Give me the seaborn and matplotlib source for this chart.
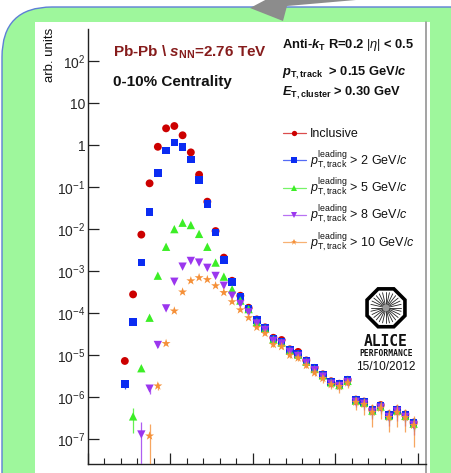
import numpy as np
import pandas as pd
import matplotlib
matplotlib.use("Agg")
import matplotlib.pyplot as plt
import seaborn as sns
from matplotlib.patches import FancyBboxPatch, Rectangle, Polygon, RegularPolygon, Circle
from matplotlib.lines import Line2D
from matplotlib.ticker import FixedLocator, FixedFormatter, LogLocator, NullFormatter, MultipleLocator

nan = np.nan

# jet pT bin centres (GeV/c)
pt_bins = [-11, -9, -7, -5, -3, -1, 1, 3, 5, 7, 9, 11, 13, 15, 17, 19, 21, 23,
           25, 27, 29, 31, 33, 35, 37, 39, 41, 43, 45, 47, 49, 51, 53, 55, 57, 59]

inclusive = [7.3e-6, 2.8e-4, 7.4e-3, 0.123, 0.91, 2.5, 2.84, 1.71, 0.67, 0.197, 0.045, 9.0e-3,
             2.1e-3, 5.9e-4, 2.6e-4, 1.35e-4, 7.1e-5, 4.6e-5, 2.6e-5, 2.3e-5, 1.38e-5, 1.2e-5,
             7.5e-6, 5.0e-6, 3.5e-6, 2.4e-6, 2.1e-6, 2.6e-6, 8.8e-7, 7.9e-7, 5.1e-7, 6.5e-7,
             3.9e-7, 5.1e-7, 3.9e-7, 2.5e-7]
lead2 = [2.1e-6, 6.2e-5, 1.6e-3, 0.0255, 0.216, 0.75, 1.16, 0.91, 0.45, 0.15, 0.039, 8.4e-3,
         1.84e-3, 5.6e-4, 2.47e-4, 1.3e-4, 6.9e-5, 4.5e-5, 2.5e-5, 2.1e-5, 1.33e-5, 1.07e-5,
         7.3e-6, 4.9e-6, 3.4e-6, 2.34e-6, 2.04e-6, 2.57e-6, 8.6e-7, 7.8e-7, 5.0e-7, 6.3e-7,
         3.8e-7, 5.0e-7, 3.8e-7, 2.45e-7]
lead5 = [nan, 3.5e-7, 4.9e-6, 7.8e-5, 7.8e-4, 3.8e-3, 0.010, 0.0142, 0.0125, 7.7e-3, 3.8e-3, 1.6e-3,
         7.4e-4, 3.7e-4, 2.0e-4, 1.25e-4, 6.2e-5, 4.3e-5, 2.4e-5, 2.0e-5, 1.28e-5, 1.03e-5,
         7.0e-6, 4.7e-6, 3.3e-6, 2.25e-6, 1.95e-6, 2.45e-6, 8.3e-7, 7.4e-7, 4.8e-7, 6.0e-7,
         3.6e-7, 4.8e-7, 3.6e-7, 2.35e-7]
lead8 = [nan, nan, 1.3e-7, 1.6e-6, 1.75e-5, 1.3e-4, 5.6e-4, 1.28e-3, 1.75e-3, 1.6e-3, 1.2e-3, 7.7e-4,
         4.5e-4, 2.6e-4, 1.66e-4, 1.05e-4, 5.7e-5, 4.0e-5, 2.2e-5, 1.9e-5, 1.2e-5, 9.6e-6,
         6.6e-6, 4.4e-6, 3.1e-6, 2.1e-6, 1.85e-6, 2.3e-6, 7.8e-7, 7.0e-7, 4.5e-7, 5.7e-7,
         3.4e-7, 4.6e-7, 3.4e-7, 2.2e-7]
lead10 = [nan, nan, nan, 1.2e-7, 1.86e-6, 1.9e-5, 1.13e-4, 3.2e-4, 5.9e-4, 7.0e-4, 6.3e-4, 4.5e-4,
          3.1e-4, 1.87e-4, 1.2e-4, 7.8e-5, 4.6e-5, 3.3e-5, 1.8e-5, 1.6e-5, 1.0e-5, 8.6e-6,
          5.7e-6, 3.8e-6, 2.8e-6, 2.0e-6, 1.8e-6, 2.2e-6, 7.6e-7, 6.8e-7, 4.4e-7, 5.5e-7,
          3.3e-7, 4.4e-7, 3.3e-7, 2.15e-7]

# relative statistical uncertainties per bin
inclusive_rel = [0.12, 0.05, 0.02, 0.01, 0.01, 0.01, 0.01, 0.01, 0.01, 0.01, 0.01, 0.02,
                 0.03, 0.04, 0.05, 0.05, 0.06, 0.07, 0.08, 0.08, 0.09, 0.10, 0.10, 0.11,
                 0.12, 0.14, 0.15, 0.14, 0.2, 0.22, 0.25, 0.22, 0.28, 0.25, 0.28, 0.3]
lead2_rel = [0.25, 0.1, 0.03, 0.01, 0.01, 0.01, 0.01, 0.01, 0.01, 0.01, 0.01, 0.02,
             0.03, 0.04, 0.05, 0.05, 0.06, 0.07, 0.08, 0.08, 0.09, 0.10, 0.10, 0.11,
             0.12, 0.14, 0.15, 0.14, 0.2, 0.22, 0.25, 0.22, 0.28, 0.25, 0.28, 0.3]
lead5_rel = [nan, 0.6, 0.15, 0.05, 0.02, 0.02, 0.02, 0.02, 0.02, 0.02, 0.02, 0.03,
             0.04, 0.05, 0.06, 0.06, 0.07, 0.08, 0.09, 0.09, 0.10, 0.11, 0.11, 0.12,
             0.13, 0.15, 0.17, 0.16, 0.22, 0.25, 0.28, 0.25, 0.3, 0.28, 0.3, 0.33]
lead8_rel = [nan, nan, 0.95, 0.25, 0.08, 0.04, 0.03, 0.03, 0.03, 0.03, 0.03, 0.04,
             0.05, 0.06, 0.07, 0.07, 0.08, 0.09, 0.1, 0.1, 0.11, 0.12, 0.12, 0.13,
             0.14, 0.16, 0.2, 0.18, 0.25, 0.3, 0.32, 0.3, 0.38, 0.4, 0.38, 0.42]
lead10_rel = [nan, nan, nan, 0.95, 0.2, 0.08, 0.04, 0.04, 0.04, 0.04, 0.04, 0.05,
              0.06, 0.07, 0.08, 0.08, 0.09, 0.1, 0.11, 0.12, 0.13, 0.14, 0.15, 0.17,
              0.2, 0.22, 0.3, 0.25, 0.35, 0.45, 0.55, 0.45, 0.55, 0.55, 0.55, 0.7]

series_keys = ["incl", "lead2", "lead5", "lead8", "lead10"]
series_values = [inclusive, lead2, lead5, lead8, lead10]
series_rel = [inclusive_rel, lead2_rel, lead5_rel, lead8_rel, lead10_rel]
series_labels = [
    "Inclusive",
    r"$p_{\mathrm{T,track}}^{\mathrm{leading}}$ > 2 GeV/$c$",
    r"$p_{\mathrm{T,track}}^{\mathrm{leading}}$ > 5 GeV/$c$",
    r"$p_{\mathrm{T,track}}^{\mathrm{leading}}$ > 8 GeV/$c$",
    r"$p_{\mathrm{T,track}}^{\mathrm{leading}}$ > 10 GeV/$c$",
]
series_colors = ["#cc0000", "#0b2cf2", "#3cee26", "#9b36ee", "#f59038"]
series_markers = ["o", "s", "^", "v", "*"]
series_sizes = [32, 30, 36, 36, 46]

ytick_vals = [1e2, 1e1, 1e0, 1e-1, 1e-2, 1e-3, 1e-4, 1e-5, 1e-6, 1e-7]
ytick_text = [r"$10^{2}$", "10", "1", r"$10^{-1}$", r"$10^{-2}$", r"$10^{-3}$",
              r"$10^{-4}$", r"$10^{-5}$", r"$10^{-6}$", r"$10^{-7}$"]

# long-form table for seaborn
frames = []
for key, vals, rel in zip(series_keys, series_values, series_rel):
    v = np.asarray(vals, dtype=float)
    frames.append(pd.DataFrame({"pt": pt_bins, "value": v, "err": v * np.asarray(rel, dtype=float),
                                "series": key}))
df = pd.concat(frames, ignore_index=True).dropna()

sns.set_theme(style="white")
plt.rcParams.update({
    "font.family": ["Liberation Sans", "DejaVu Sans"],
    "mathtext.fontset": "custom",
    "mathtext.rm": "Liberation Sans",
    "mathtext.it": "Liberation Sans:italic",
    "mathtext.bf": "Liberation Sans:bold",
    "mathtext.bfit": "Liberation Sans:italic:bold",
    "mathtext.sf": "Liberation Sans",
})

W, H = 452, 473
fig = plt.figure(figsize=(W / 100, H / 100), dpi=100)
fig.patch.set_facecolor("white")
PX = fig.dpi_scale_trans


def px(x, y):
    return (x / 100.0, (H - y) / 100.0)


# slide background: green rounded panel, white plot canvas
fig.add_artist(FancyBboxPatch(px(2, 560), 5.2, 5.53, boxstyle="round,pad=0,rounding_size=0.5",
                              transform=PX, facecolor="#9ef79c", edgecolor="#5d7fd6",
                              linewidth=1.0, zorder=-10))
fig.add_artist(Rectangle(px(35, 480), 3.95, 4.58, transform=PX, facecolor="white",
                         edgecolor="none", zorder=-9))
fig.add_artist(Line2D([4.26, 4.26], [0, (H - 22) / 100], transform=PX, color="#8a8a8a",
                      linewidth=1.1, zorder=-8))
# grey pointer arrow at the top edge
fig.add_artist(Polygon([px(250, 8), px(288, -12), px(285, -2), px(400, -14), px(402, -4),
                        px(287, 6), px(283, 21)], closed=True, transform=PX,
                       facecolor="#8c8c8c", edgecolor="none", zorder=-7))

ax = fig.add_axes([87.7 / W, (H - 464.3) / H, (426 - 87.7) / W, (464.3 - 29.3) / H])
ax.set_facecolor("none")

for i, (key, col, mk, sz) in enumerate(zip(series_keys, series_colors, series_markers, series_sizes)):
    sub = df[df["series"] == key]
    ax.errorbar(sub["pt"], sub["value"], yerr=sub["err"], fmt="none", ecolor=col,
                elinewidth=0.9, alpha=0.8, capsize=0, zorder=2 + 2 * i)
    sns.scatterplot(data=sub, x="pt", y="value", marker=mk, color=col, s=sz,
                    edgecolor="none", linewidth=0, legend=False, ax=ax, zorder=3 + 2 * i)

ax.set_yscale("log")
ax.set_xlim(-20, 62)
ax.set_ylim(2.54e-8, 568)
ax.yaxis.set_major_locator(FixedLocator(ytick_vals))
ax.yaxis.set_major_formatter(FixedFormatter(ytick_text))
ax.yaxis.set_minor_locator(LogLocator(base=10, subs=np.arange(2, 10)))
ax.yaxis.set_minor_formatter(NullFormatter())
ax.xaxis.set_major_locator(MultipleLocator(20))
ax.xaxis.set_minor_locator(MultipleLocator(4))
ax.set_xlabel("")
ax.set_ylabel("")
ax.tick_params(axis="both", which="major", direction="in", length=8, width=0.9, color="#222222",
               labelsize=10, pad=1.5, left=True, bottom=True, top=False, right=False,
               labelbottom=False)
ax.tick_params(axis="both", which="minor", direction="in", length=4.3, width=0.8, color="#222222",
               left=True, bottom=True, top=False, right=False)
for side in ("top", "right"):
    ax.spines[side].set_visible(False)
for side in ("left", "bottom"):
    ax.spines[side].set_color("#222222")
    ax.spines[side].set_linewidth(1.0)

# axis title
fig.text(*px(50, 28), "arb. units", transform=PX, rotation=90, ha="center", va="top",
         fontsize=9.5, color="#111111")

# header texts
fig.text(*px(113, 56.7), r"Pb-Pb \ $\mathbfit{s}_{\mathbf{NN}}$=2.76 TeV", transform=PX,
         fontsize=11, fontweight="bold", color="#861c1c", va="baseline")
fig.text(*px(113, 85.7), "0-10% Centrality", transform=PX, fontsize=11, fontweight="bold",
         color="#111111", va="baseline")
fig.text(*px(282, 48.3), r"Anti-$\mathbfit{k}_{\mathbf{T}}$ R=0.2 $|\eta|$ < 0.5", transform=PX,
         fontsize=9.3, fontweight="bold", color="#111111", va="baseline")
fig.text(*px(282, 75), r"$\mathbfit{p}_{\mathbf{T,track}}$  > 0.15 GeV/$\mathbfit{c}$", transform=PX,
         fontsize=9.3, fontweight="bold", color="#111111", va="baseline")
fig.text(*px(282, 95), r"$\mathbfit{E}_{\mathbf{T,cluster}}$ > 0.30 GeV", transform=PX,
         fontsize=9.3, fontweight="bold", color="#111111", va="baseline")

# legend drawn as line+marker samples
row_y = [133.3, 160.3, 187.6, 214.9, 242.2]
for lab, col, mk, yy in zip(series_labels, series_colors, series_markers, row_y):
    fig.add_artist(Line2D([2.827, 3.06], [(H - yy) / 100] * 2, transform=PX, color=col,
                          linewidth=0.9, alpha=0.7, zorder=5))
    fig.add_artist(Line2D([2.943], [(H - yy) / 100], transform=PX, color=col, marker=mk,
                          markersize=3.8 if mk != "*" else 5.0, markeredgewidth=0, zorder=6))
    base = yy + 4.0
    fig.text(*px(310, base), lab, transform=PX, fontsize=9, color="#111111", va="baseline")

# experiment logo
cx, cy = 386.0, 307.8
ctr = px(cx, cy)
fig.add_artist(RegularPolygon(ctr, numVertices=8, radius=0.205, orientation=np.pi / 8,
                              transform=PX, facecolor="white", edgecolor="black",
                              linewidth=2.6, zorder=6))
for k in range(28):
    a = 2 * np.pi * k / 28
    r0, r1 = 0.03, 0.155
    fig.add_artist(Line2D([ctr[0] + r0 * np.cos(a), ctr[0] + r1 * np.cos(a)],
                          [ctr[1] + r0 * np.sin(a), ctr[1] + r1 * np.sin(a)],
                          transform=PX, color="#222222", linewidth=0.6, zorder=7))
fig.add_artist(Circle(ctr, 0.035, transform=PX, facecolor="#9a9a9a", edgecolor="none", zorder=8))
fig.text(*px(cx, 345.5), "ALICE", transform=PX, fontsize=10.5, fontweight="bold",
         family="DejaVu Sans Mono", ha="center", va="baseline", color="#111111")
fig.text(*px(cx, 355.5), "PERFORMANCE", transform=PX, fontsize=5.8, fontweight="bold",
         family="DejaVu Sans Mono", ha="center", va="baseline", color="#111111")
fig.text(*px(385.5, 369.5), "15/10/2012", transform=PX, fontsize=8.6, ha="center",
         va="baseline", color="#111111")

fig.savefig("out.png", dpi=100)
